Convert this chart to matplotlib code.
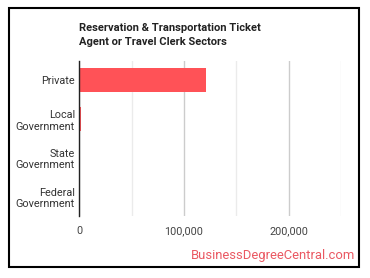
import matplotlib.pyplot as plt
from matplotlib.patches import Rectangle
from matplotlib.ticker import FuncFormatter, MultipleLocator

# datos
sectors = ['Private', 'Local\nGovernment', 'State\nGovernment', 'Federal\nGovernment']
workers = [121000, 1400, 1100, 200]

plt.rcParams['font.family'] = ['Roboto', 'DejaVu Sans']

fig = plt.figure(figsize=(3.7, 2.78), dpi=100)
ax = fig.add_axes([0.2143, 0.223, 0.707, 0.558])

ypos = range(len(sectors))
ax.barh(ypos, workers, height=0.63, color='#ff5257', zorder=3)
ax.set_ylim(len(sectors) - 0.5, -0.5)
ax.set_xlim(0, 250000)
ax.set_yticks(list(ypos))
ax.set_yticklabels(sectors, fontsize=7.8, color='#333333', linespacing=1.2)

ax.xaxis.set_major_locator(MultipleLocator(100000))
ax.xaxis.set_minor_locator(MultipleLocator(50000))
ax.xaxis.set_major_formatter(FuncFormatter(lambda v, p: f'{int(v):,}'))
ax.tick_params(axis='x', labelsize=7.8, labelcolor='#444444', length=0, pad=7)
ax.tick_params(axis='x', which='minor', length=0)
ax.tick_params(axis='y', length=0, pad=3)
ax.grid(axis='x', which='major', color='#cccccc', linewidth=1, zorder=0)
ax.grid(axis='x', which='minor', color='#ebebeb', linewidth=1, zorder=0)

for s in ['top', 'right', 'bottom']:
    ax.spines[s].set_visible(False)
ax.spines['left'].set_color('#222222')
ax.spines['left'].set_linewidth(1)
ax.spines['left'].set_zorder(4)

fig.text(79 / 370, 1 - 35 / 278, 'Reservation & Transportation Ticket\nAgent or Travel Clerk Sectors',
         fontsize=8, fontweight='bold', color='#222222', va='center', ha='left', linespacing=1.45)

fig.text(355 / 370, 1 - 256 / 278, 'BusinessDegreeCentral.com', fontsize=9.4,
         color='#ea5862', ha='right', va='center')

fig.patches.append(Rectangle((8.5 / 370, 1 - 267 / 278), 350.5 / 370, 259 / 278,
                             transform=fig.transFigure, fill=False, edgecolor='black', linewidth=1.5))

plt.savefig('out.png', dpi=100)
